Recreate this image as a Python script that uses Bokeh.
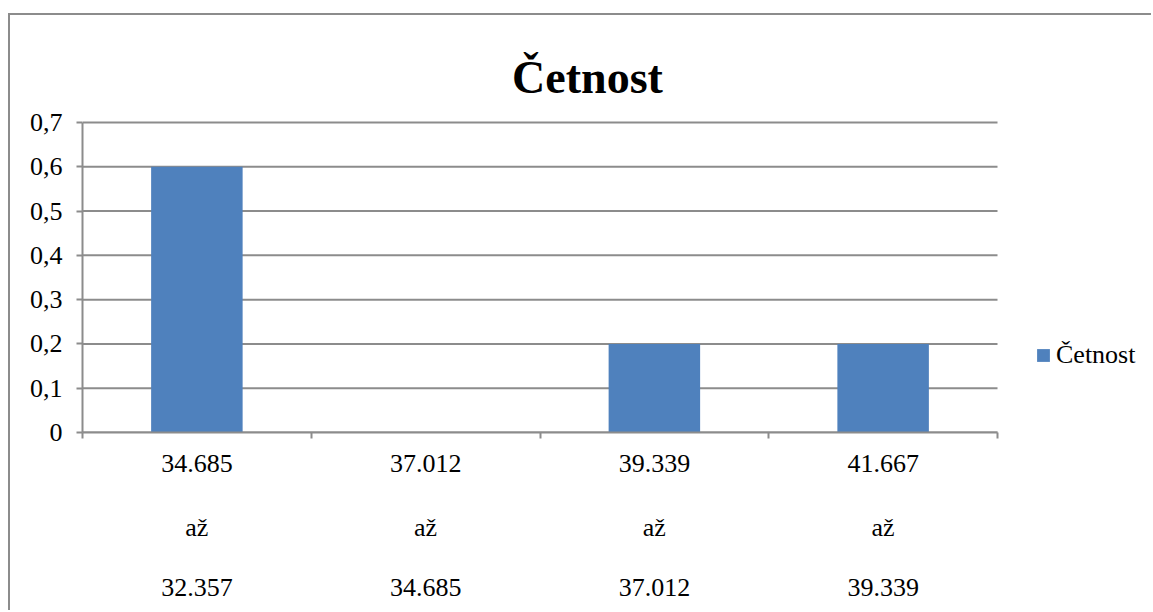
from bokeh.plotting import figure
from bokeh.models import (Range1d, FixedTicker, CustomJSTickFormatter, Legend, LegendItem, LinearAxis,
                          ColumnDataSource, Label)
from bokeh.embed import file_html
from bokeh.resources import INLINE

# Data
bin_upper = ["34.685", "37.012", "39.339", "41.667"]
bin_lower = ["32.357", "34.685", "37.012", "39.339"]
joiner = "až"
values = [0.6, 0.0, 0.2, 0.2]
series_name = "Četnost"
title_text = "Četnost"
y_ticks = [0.0, 0.1, 0.2, 0.3, 0.4, 0.5, 0.6, 0.7]
y_max = 0.7

FONT = "Times New Roman"
GRAY = "#8c8c8c"
BLUE = "#4f81bd"

# layout (pixels)
W, H = 1143, 597
LEFT, BOTTOM = 72, 180
PLOT_W, PLOT_H = 915, 310          # width/height of the value area
frame_w, frame_h = W - LEFT, H - BOTTOM

n = len(values)
centers = [i + 0.5 for i in range(n)]
src = ColumnDataSource(dict(x=centers, top=values))

p = figure(width=W, height=H, output_backend="svg", toolbar_location=None,
           x_range=Range1d(0, n * frame_w / PLOT_W), y_range=Range1d(0, y_max * frame_h / PLOT_H),
           min_border_left=LEFT, min_border_right=0, min_border_top=0, min_border_bottom=BOTTOM)
p.styles = {"border-left": f"2px solid {GRAY}", "border-top": f"2px solid {GRAY}",
            "margin-top": "13px", "margin-left": "8px"}
p.outline_line_color = None
p.xgrid.visible = False
p.ygrid.visible = False

# horizontal grid lines over the value area
grid_src = ColumnDataSource(dict(y=y_ticks, x0=[0] * len(y_ticks), x1=[n] * len(y_ticks)))
p.segment(x0="x0", x1="x1", y0="y", y1="y", source=grid_src, line_color=GRAY, line_width=2)

r = p.vbar(x="x", top="top", width=0.4, source=src, color=BLUE, line_color=None)

def style_x(ax, labels, standoff):
    ax.ticker = FixedTicker(ticks=centers, minor_ticks=[])
    ax.major_label_overrides = {c: lab for c, lab in zip(centers, labels)}
    ax.major_tick_out = 0
    ax.major_tick_in = 0
    ax.minor_tick_line_color = None
    ax.axis_line_color = None
    ax.major_label_text_font = FONT
    ax.major_label_text_font_size = "26px"
    ax.major_label_text_color = "black"
    ax.major_label_standoff = standoff

# x axis (first row + boundary ticks)
xa = p.xaxis[0]
style_x(xa, bin_upper, 16)
xa.ticker = FixedTicker(ticks=centers, minor_ticks=list(range(n + 1)))
xa.bounds = (0, n)
xa.minor_tick_out = 6
xa.minor_tick_in = 0
xa.minor_tick_line_color = GRAY
xa.minor_tick_line_width = 2
xa.axis_line_color = GRAY
xa.axis_line_width = 2

xa2 = LinearAxis()
style_x(xa2, [joiner] * n, 38)
p.add_layout(xa2, "below")
xa3 = LinearAxis()
style_x(xa3, bin_lower, 34)
p.add_layout(xa3, "below")

# y axis
ya = p.yaxis[0]
ya.ticker = FixedTicker(ticks=y_ticks, minor_ticks=[])
ya.bounds = (0, y_max)
ya.formatter = CustomJSTickFormatter(code='return tick == 0 ? "0" : tick.toFixed(1).replace(".", ",");')
ya.major_tick_out = 6
ya.major_tick_in = 0
ya.major_tick_line_color = GRAY
ya.major_tick_line_width = 2
ya.minor_tick_line_color = None
ya.axis_line_color = GRAY
ya.axis_line_width = 2
ya.major_label_text_font = FONT
ya.major_label_text_font_size = "26px"
ya.major_label_text_color = "black"
ya.major_label_standoff = 14

legend = Legend(items=[LegendItem(label=series_name, renderers=[r])],
                location=(953, 62), glyph_width=16, glyph_height=16, label_standoff=5,
                padding=0, margin=0, border_line_color=None, background_fill_alpha=0,
                label_text_font=FONT, label_text_font_size="26px", label_text_color="black")
p.add_layout(legend)

title = Label(x=505, y=355, x_units="screen", y_units="screen", text=title_text,
              text_align="center", text_baseline="alphabetic", text_font=FONT,
              text_font_size="46px", text_font_style="bold", text_color="black")
p.add_layout(title)

open("out.html", "w").write(file_html(p, INLINE))
